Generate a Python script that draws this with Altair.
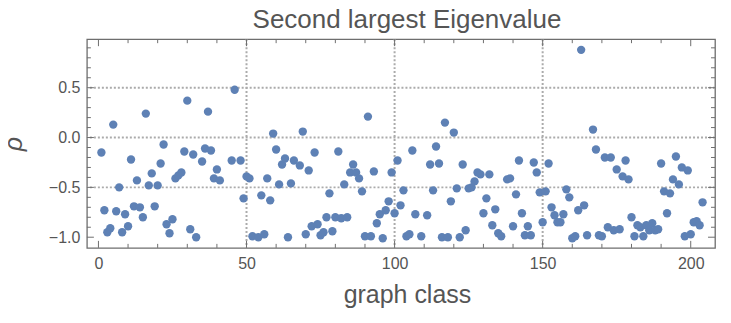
import altair as alt
import pandas as pd

# ---- data ----
graph_class = [1, 2, 3, 4, 5, 6, 7, 8, 9, 10, 11, 12, 13, 14, 15, 16, 17, 18, 19, 20,
               21, 22, 23, 24, 25, 26, 27, 28, 29, 30, 31, 32, 33, 35, 36, 37, 38, 39, 40, 41,
               45, 46, 48, 49, 50, 51, 52, 54, 55, 56, 57, 58, 59, 60, 61, 62, 63, 64, 65, 66,
               68, 69, 70, 71, 72, 73, 74, 75, 76, 77, 78, 79, 80, 81, 82, 83, 84, 85, 86, 87,
               88, 89, 90, 91, 92, 93, 94, 95, 96, 97, 98, 99, 100, 101, 102, 103, 104, 105, 106, 107,
               109, 111, 112, 113, 114, 115, 116, 117, 118, 119, 120, 121, 122, 123, 124, 125, 126, 127, 128, 129,
               130, 131, 132, 133, 134, 135, 136, 138, 139, 140, 141, 142, 143, 144, 145, 146, 147, 148, 149, 150,
               151, 152, 153, 154, 155, 156, 157, 158, 159, 160, 161, 162, 163, 164, 165, 167, 168, 169, 170, 171,
               172, 173, 174, 175, 176, 177, 178, 179, 180, 181, 182, 183, 184, 185, 186, 187, 188, 189, 190, 191,
               192, 193, 194, 195, 196, 197, 198, 199, 200, 201, 202, 203, 204]
rho = [-0.15, -0.73, -0.95, -0.91, 0.13, -0.74, -0.50, -0.95, -0.77, -0.89, -0.22, -0.69, -0.43, -0.70, -0.80, 0.24, -0.48, -0.36, -0.69, -0.48,
       -0.26, -0.07, -0.87, -0.96, -0.82, -0.41, -0.38, -0.35, -0.14, 0.37, -0.92, -0.17, -1.00, -0.24, -0.11, 0.26, -0.13, -0.41, -0.32, -0.43,
       -0.23, 0.48, -0.23, -0.61, -0.39, -0.41, -0.99, -1.00, -0.58, -0.97, -0.41, -0.63, 0.04, -0.12, -0.47, -0.27, -0.21, -1.00, -0.46, -0.23,
       -0.28, 0.06, -0.97, -0.33, -0.89, -0.15, -0.87, -0.98, -0.95, -0.80, -0.56, -0.94, -0.80, -0.14, -0.81, -0.47, -0.80, -0.35, -0.27, -0.35,
       -0.41, -0.54, -0.99, 0.21, -0.99, -0.34, -0.86, -0.77, -1.01, -0.73, -0.64, -0.35, -0.76, -0.23, -0.68, -0.53, -0.99, -0.97, -0.13, -0.77,
       -0.99, -0.78, -0.27, -0.53, -0.09, -0.26, -1.00, 0.15, -1.00, -0.64, 0.05, -0.51, -1.00, -0.27, -0.93, -0.51, -0.50, -0.44, -0.35, -0.37,
       -0.76, -0.61, -0.37, -0.88, -0.72, -0.96, -0.99, -0.42, -0.41, -0.89, -0.57, -0.23, -0.76, -0.98, -0.89, -0.98, -0.25, -0.35, -0.55, -0.85,
       -0.54, -0.26, -0.70, -0.78, -0.85, -0.85, -0.77, -0.52, -0.60, -1.01, -0.99, -0.73, 0.88, -0.68, -0.98, 0.08, -0.12, -0.98, -0.99, -0.20,
       -0.90, -0.20, -0.93, -0.32, -0.92, -0.39, -0.23, -0.42, -0.80, -0.99, -0.88, -0.90, -0.99, -0.88, -0.93, -0.86, -0.93, -0.92, -0.26, -0.54,
       -0.76, -0.56, -0.42, -0.19, -0.47, -0.30, -0.99, -0.33, -0.97, -0.85, -0.84, -0.88, -0.65]

x_major = [0, 50, 100, 150, 200]
x_minor = [10, 20, 30, 40, 60, 70, 80, 90, 110, 120, 130, 140, 160, 170, 180, 190]
y_major = [-1.0, -0.5, 0.0, 0.5]
y_minor = [-0.9, -0.8, -0.7, -0.6, -0.4, -0.3, -0.2, -0.1, 0.1, 0.2, 0.3, 0.4, 0.6, 0.7, 0.8, 0.9]
x_grid = [50, 100, 150]
y_grid = [-0.5, 0.0, 0.5]

W, H = 629, 209
FONT = "Liberation Sans"
TXT = "#555555"
FRAME = "#6e6e6e"
GRID = "#ababab"
MAJ, MIN = 7, 4

xs = alt.Scale(domain=[-3.9, 208.2], nice=False, zero=False)
ys = alt.Scale(domain=[-1.107, 0.987], nice=False, zero=False)

df = pd.DataFrame({"graph class": graph_class, "rho": rho})

gx = alt.Chart(pd.DataFrame({"v": x_grid})).mark_rule(
    color=GRID, strokeWidth=2, strokeDash=[2, 2]).encode(
    x=alt.X("v:Q", scale=xs,
            axis=alt.Axis(values=x_major, ticks=False, domain=False, grid=False, orient="bottom",
                          labelFontSize=16, labelFont=FONT, labelColor=TXT, labelPadding=8,
                          title="graph class", titleFont=FONT, titleFontSize=25,
                          titleFontWeight="normal", titleColor=TXT, titlePadding=11,
                          titleX=W / 2 + 6)))
gy = alt.Chart(pd.DataFrame({"v": y_grid})).mark_rule(
    color=GRID, strokeWidth=2, strokeDash=[2, 2]).encode(
    y=alt.Y("v:Q", scale=ys,
            axis=alt.Axis(values=y_major, format=".1f", ticks=False, domain=False, grid=False,
                          orient="left",
                          labelFontSize=16, labelFont=FONT, labelColor=TXT, labelPadding=7,
                          title="ρ", titleFont=FONT, titleFontSize=25, titleFontStyle="italic",
                          titleFontWeight="normal", titleColor=TXT, titlePadding=22)))

points = alt.Chart(df).mark_circle(size=70, opacity=1, color="#5E81B5").encode(
    x=alt.X("graph class:Q", scale=xs, axis=None),
    y=alt.Y("rho:Q", scale=ys, axis=None),
)


def xticks(vals, length):
    d = pd.DataFrame({"v": vals})
    base = alt.Chart(d).mark_rule(color=FRAME, strokeWidth=1)
    bottom = base.encode(x=alt.X("v:Q", scale=xs, axis=None),
                         y=alt.value(H), y2=alt.value(H - length))
    top = base.encode(x=alt.X("v:Q", scale=xs, axis=None),
                      y=alt.value(0), y2=alt.value(length))
    return [bottom, top]


def yticks(vals, length):
    d = pd.DataFrame({"v": vals})
    base = alt.Chart(d).mark_rule(color=FRAME, strokeWidth=1)
    left = base.encode(y=alt.Y("v:Q", scale=ys, axis=None),
                       x=alt.value(0), x2=alt.value(length))
    right = base.encode(y=alt.Y("v:Q", scale=ys, axis=None),
                        x=alt.value(W), x2=alt.value(W - length))
    return [left, right]


layers = [gx, gy] + xticks(x_major, MAJ) + xticks(x_minor, MIN) \
    + yticks(y_major, MAJ) + yticks(y_minor, MIN) + [points]

chart = alt.layer(*layers).resolve_axis(x="independent", y="independent").properties(
    width=W, height=H,
    title=alt.TitleParams("Second largest Eigenvalue", font=FONT, fontSize=26,
                          fontWeight="normal", color=TXT, anchor="middle",
                          offset=5, dx=6),
    autosize=alt.AutoSizeParams(type="none"),
    padding={"left": 79, "top": 31, "right": 8, "bottom": 60},
).configure_view(stroke=FRAME, strokeWidth=1.3)

chart.save("out.html", embed_options={"renderer": "svg", "actions": False})
